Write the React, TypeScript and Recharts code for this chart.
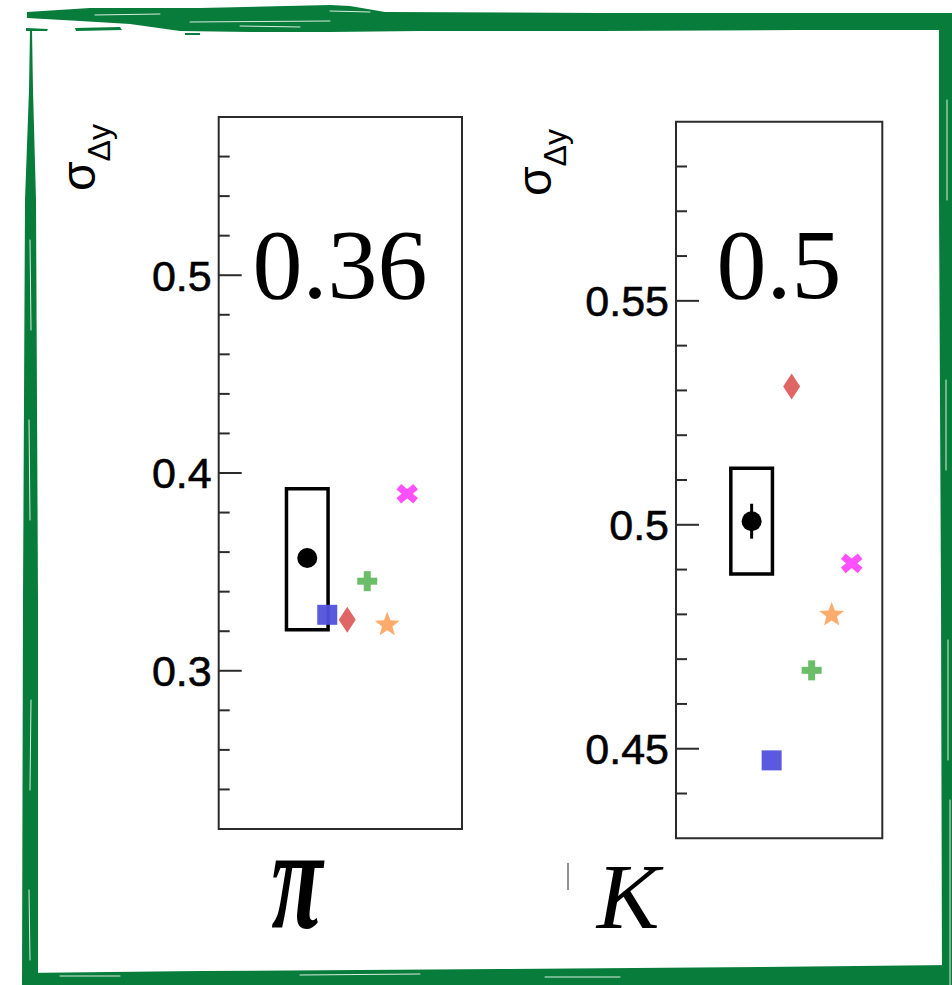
import React from 'react';
import { ScatterChart, Scatter, XAxis, YAxis, ReferenceArea, ErrorBar } from 'recharts';

// ---- values per particle species (π, K) ----
const particles = ['π', 'K'];
const valueLabels = ['0.36', '0.5'];
const measured = [0.357, 0.5008];
const statError = [0.004, 0.0039];
const systLow = [0.3207, 0.489];
const systHigh = [0.392, 0.5126];

// model predictions, one array per marker style
const squareModel = [0.3283, 0.4474];
const diamondModel = [0.3258, 0.5309];
const plusModel = [0.3453, 0.4675];
const starModel = [0.3238, 0.4801];
const crossModel = [0.3895, 0.4914];

// axis ranges and ticks
const yDomains = [
  [0.22, 0.58],
  [0.43, 0.59],
];
const yTicks = [
  [0.24, 0.26, 0.28, 0.3, 0.32, 0.34, 0.36, 0.38, 0.4, 0.42, 0.44, 0.46, 0.48, 0.5, 0.52, 0.54, 0.56],
  [0.44, 0.45, 0.46, 0.47, 0.48, 0.49, 0.5, 0.51, 0.52, 0.53, 0.54, 0.55, 0.56, 0.57, 0.58],
];
const yTickLabels = [
  ['0.3', '0.4', '0.5'],
  ['0.45', '0.5', '0.55'],
];
const xDomains = [
  [-4.43, 7.74],
  [-3.78, 6.53],
];

const W = 952;
const H = 985;
const GREEN = '#087d3b';
const SANS = '"Liberation Sans", Arial, Helvetica, sans-serif';
const SERIF = '"Liberation Serif", "Times New Roman", serif';

// plot rectangles of the two panels
const panels = [
  { left: 218.7, right: 462, top: 117, bottom: 829, titleX: 340, axisBase: 95, axisStart: 191, nameX: 297 },
  { left: 676, right: 882.3, top: 121.7, bottom: 838.3, titleX: 779, axisBase: 551, axisStart: 196, nameX: 628 },
];
const Y_AXIS_W = 60;

type ShapeProps = { cx?: number; cy?: number };

const Dot = ({ cx = 0, cy = 0 }: ShapeProps) => <circle cx={cx} cy={cy} r={10} fill="#000" />;

const Square = ({ cx = 0, cy = 0 }: ShapeProps) => (
  <rect x={cx - 10} y={cy - 10} width={20} height={20} fill="#5151dc" fillOpacity={0.95} />
);

const Diamond = ({ cx = 0, cy = 0 }: ShapeProps) => (
  <polygon
    points={`${cx},${cy - 13} ${cx + 8.5},${cy} ${cx},${cy + 13} ${cx - 8.5},${cy}`}
    fill="#e06565"
  />
);

const Plus = ({ cx = 0, cy = 0 }: ShapeProps) => (
  <g fill="#6cbd6a">
    <rect x={cx - 10} y={cy - 3.5} width={20} height={7} />
    <rect x={cx - 3.5} y={cy - 10} width={7} height={20} />
  </g>
);

const Star = ({ cx = 0, cy = 0 }: ShapeProps) => {
  const pts: string[] = [];
  for (let i = 0; i < 10; i++) {
    const r = i % 2 === 0 ? 13 : 5.5;
    const a = -Math.PI / 2 + (i * Math.PI) / 5;
    pts.push(`${cx + r * Math.cos(a)},${cy + 1 + r * Math.sin(a)}`);
  }
  return <polygon points={pts.join(' ')} fill="#ffab6c" />;
};

const Cross = ({ cx = 0, cy = 0 }: ShapeProps) => (
  <g fill="#ff50ff">
    <rect x={cx - 11} y={cy - 3.6} width={22} height={7.2} transform={`rotate(40 ${cx} ${cy})`} />
    <rect x={cx - 11} y={cy - 3.6} width={22} height={7.2} transform={`rotate(-40 ${cx} ${cy})`} />
  </g>
);

const models = [
  { key: 'square', values: squareModel, Shape: Square },
  { key: 'diamond', values: diamondModel, Shape: Diamond },
  { key: 'plus', values: plusModel, Shape: Plus },
  { key: 'star', values: starModel, Shape: Star },
  { key: 'cross', values: crossModel, Shape: Cross },
];

function makeTick(labels: string[]) {
  return (props: any) => {
    const { x, y, payload } = props;
    const label = labels.find((l) => Math.abs(parseFloat(l) - payload.value) < 1e-6);
    const len = label ? 23 : 11;
    return (
      <g>
        <line x1={x} y1={y} x2={x + len} y2={y} stroke="#2b2b2b" strokeWidth={2} />
        {label && (
          <text
            x={x - 7}
            y={y}
            dy="0.36em"
            textAnchor="end"
            fontSize={43}
            fontFamily={SANS}
            fill="#000"
            stroke="#000"
            strokeWidth={0.6}
          >
            {label}
          </text>
        )}
      </g>
    );
  };
}

function Panel({ index }: { index: number }) {
  const p = panels[index];
  const [xMin, xMax] = xDomains[index];
  const [yMin, yMax] = yDomains[index];
  const dataPoint = [{ x: 0, y: measured[index], err: statError[index] }];
  return (
    <div style={{ position: 'absolute', left: 0, top: 0 }}>
      <ScatterChart
        width={W}
        height={H}
        margin={{ top: p.top, bottom: H - p.bottom, left: p.left - Y_AXIS_W, right: W - p.right }}
      >
        <XAxis type="number" dataKey="x" domain={[xMin, xMax]} hide allowDataOverflow />
        <YAxis
          type="number"
          dataKey="y"
          domain={[yMin, yMax]}
          ticks={yTicks[index]}
          interval={0}
          width={Y_AXIS_W}
          axisLine={false}
          tickLine={false}
          tickSize={0}
          tickMargin={0}
          tick={makeTick(yTickLabels[index])}
          allowDataOverflow
        />
        <ReferenceArea
          x1={xMin}
          x2={xMax}
          y1={yMin}
          y2={yMax}
          fill="none"
          fillOpacity={0}
          stroke="#2b2b2b"
          strokeWidth={2}
          ifOverflow="visible"
        />
        <ReferenceArea
          x1={-1.04}
          x2={1.04}
          y1={systLow[index]}
          y2={systHigh[index]}
          fill="none"
          fillOpacity={0}
          stroke="#000"
          strokeWidth={3.5}
          ifOverflow="visible"
        />
        {models.map((m, k) => (
          <Scatter
            key={m.key}
            name={m.key}
            data={[{ x: k + 1, y: m.values[index] }]}
            shape={(s: any) => <m.Shape cx={s.cx} cy={s.cy} />}
            isAnimationActive={false}
          />
        ))}
        <Scatter
          name="measured"
          data={dataPoint}
          shape={(s: any) => <Dot cx={s.cx} cy={s.cy} />}
          isAnimationActive={false}
        >
          <ErrorBar dataKey="err" direction="y" width={0} stroke="#000" strokeWidth={3} />
        </Scatter>
      </ScatterChart>
    </div>
  );
}

function Annotations() {
  return (
    <svg width={W} height={H} style={{ position: 'absolute', left: 0, top: 0, pointerEvents: 'none' }}>
      {panels.map((p, i) => (
        <g key={i}>
          <text x={p.titleX} y={298} textAnchor="middle" fontSize={100} fontFamily={SERIF} fill="#000">
            {valueLabels[i]}
          </text>
          <text
            x={p.axisBase}
            y={p.axisStart}
            transform={`rotate(-90 ${p.axisBase} ${p.axisStart})`}
            fontFamily={SANS}
            fill="#000"
          >
            <tspan fontSize={48}>σ</tspan>
            <tspan fontSize={32} dy={15}>
              Δy
            </tspan>
          </text>
          <text
            transform={`translate(${p.nameX} 928) scale(1 ${i === 0 ? 1.55 : 1})`}
            textAnchor="middle"
            fontSize={94}
            fontFamily={SERIF}
            fontStyle="italic"
            fontWeight={i === 0 ? 700 : 400}
            fill="#000"
          >
            {particles[i]}
          </text>
        </g>
      ))}
      <line x1={568} y1={863} x2={568} y2={890} stroke="#222" strokeWidth={1} />
    </svg>
  );
}

function BrushFrame() {
  return (
    <svg width={W} height={H} style={{ position: 'absolute', left: 0, top: 0, pointerEvents: 'none' }}>
      <g fill={GREEN}>
        {/* top stroke */}
        <path d="M27 12 L90 8 L200 8 L330 5 L350 6 L385 12 L600 13 L800 13 L952 13 L952 30 L800 30 L600 31 L420 31 L330 32 L250 32 L180 31 L130 24 L80 21 L27 18 Z" />
        <path d="M26 28 L48 29 L47 31 L26 31 Z" />
        <path d="M75 28 L120 27 L122 30 L76 31 Z" />
        <path d="M185 33 L200 33 L200 35 L185 35 Z" />
        {/* left stroke */}
        <path d="M30 30 L32 30 L33 90 L36 200 L38 600 L38 985 L22 985 L23 600 L25 200 L29 90 Z" />
        {/* bottom stroke */}
        <path d="M22 973 L200 971 L500 969 L760 967 L952 965 L952 985 L22 985 Z" />
        {/* right stroke */}
        <path d="M939 13 L952 13 L952 985 L942 985 L941 600 L939 200 Z" />
      </g>
      <g stroke="#ffffff" strokeWidth={1} strokeLinecap="round" opacity={0.85}>
        <line x1={95} y1={15} x2={160} y2={14} />
        <line x1={190} y1={22} x2={330} y2={21} />
        <line x1={240} y1={26} x2={300} y2={27} />
        <line x1={330} y1={11} x2={370} y2={12} />
        <line x1={30} y1={240} x2={31} y2={330} />
        <line x1={29} y1={420} x2={30} y2={520} />
        <line x1={31} y1={700} x2={30} y2={790} />
        <line x1={29} y1={890} x2={30} y2={960} />
        <line x1={60} y1={976} x2={120} y2={976} />
        <line x1={300} y1={975} x2={420} y2={974} />
        <line x1={545} y1={977} x2={620} y2={977} />
        <line x1={947} y1={100} x2={947} y2={200} />
        <line x1={946} y1={380} x2={946} y2={470} />
        <line x1={948} y1={640} x2={948} y2={760} />
        <line x1={950} y1={800} x2={950} y2={985} />
      </g>
    </svg>
  );
}

export default function App() {
  return (
    <div style={{ position: 'absolute', left: 0, top: 0, width: W, height: H, background: '#fff', overflow: 'hidden' }}>
      <Panel index={0} />
      <Panel index={1} />
      <Annotations />
      <BrushFrame />
    </div>
  );
}
